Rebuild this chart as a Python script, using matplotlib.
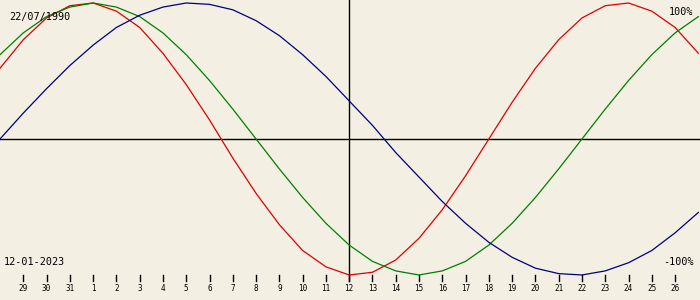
import matplotlib
matplotlib.use("Agg")
import matplotlib.pyplot as plt

# days relative to the target date 12-01-2023
offsets = list(range(-15, 16))
day_labels = [29, 30, 31] + list(range(1, 27))  # offsets -14 .. 14

# biorhythm values, one per day
physical = [0.52, 0.73, 0.89, 0.98, 1.00, 0.94, 0.82, 0.63, 0.40, 0.14, -0.14,
            -0.40, -0.63, -0.82, -0.94, -1.00, -0.98, -0.89, -0.73, -0.52, -0.27,
            0.00, 0.27, 0.52, 0.73, 0.89, 0.98, 1.00, 0.94, 0.82, 0.63]
emotional = [0.62, 0.78, 0.90, 0.97, 1.00, 0.97, 0.90, 0.78, 0.62, 0.43, 0.22,
             0.00, -0.22, -0.43, -0.62, -0.78, -0.90, -0.97, -1.00, -0.97, -0.90,
             -0.78, -0.62, -0.43, -0.22, 0.00, 0.22, 0.43, 0.62, 0.78, 0.90]
intellectual = [0.00, 0.19, 0.37, 0.54, 0.69, 0.82, 0.91, 0.97, 1.00, 0.99, 0.95,
                0.87, 0.76, 0.62, 0.46, 0.28, 0.10, -0.10, -0.28, -0.46, -0.62,
                -0.76, -0.87, -0.95, -0.99, -1.00, -0.97, -0.91, -0.82, -0.69, -0.54]

birth_label = "22/07/1990"
date_label = "12-01-2023"

bg = "#f3efe3"
fig = plt.figure(figsize=(7, 3), dpi=100, facecolor=bg)
ax = fig.add_axes([0, 0, 1, 1])
ax.set_facecolor(bg)
ax.set_xlim(-15.0, 15.07)
ax.set_ylim(-1.184, 1.022)
ax.axis("off")

ax.axhline(0, color="black", lw=1.0)
ax.plot([0, 0], [-1.044, 1.1], color="black", lw=1.0)

ax.plot(offsets, physical, color="#e00000", lw=0.9)
ax.plot(offsets, emotional, color="#008000", lw=0.9)
ax.plot(offsets, intellectual, color="#000080", lw=0.9)

tick_days = offsets[1:-1]
for d, lab in zip(tick_days, day_labels):
    ax.plot([d, d], [-1.0, -1.044], color="black", lw=1.0)
    ax.text(d, -1.096, str(lab), ha="center", va="center",
            family="DejaVu Sans Mono", fontsize=5.5)

mono = dict(family="DejaVu Sans Mono", fontsize=7.3, color="black")
ax.text(0.013, 0.943, birth_label, transform=ax.transAxes, ha="left", va="center", **mono)
ax.text(0.991, 0.96, "100%", transform=ax.transAxes, ha="right", va="center", **mono)
ax.text(0.991, 0.127, "-100%", transform=ax.transAxes, ha="right", va="center", **mono)
ax.text(0.006, 0.127, date_label, transform=ax.transAxes, ha="left", va="center", **mono)

fig.savefig("out.png", dpi=100, facecolor=bg)
